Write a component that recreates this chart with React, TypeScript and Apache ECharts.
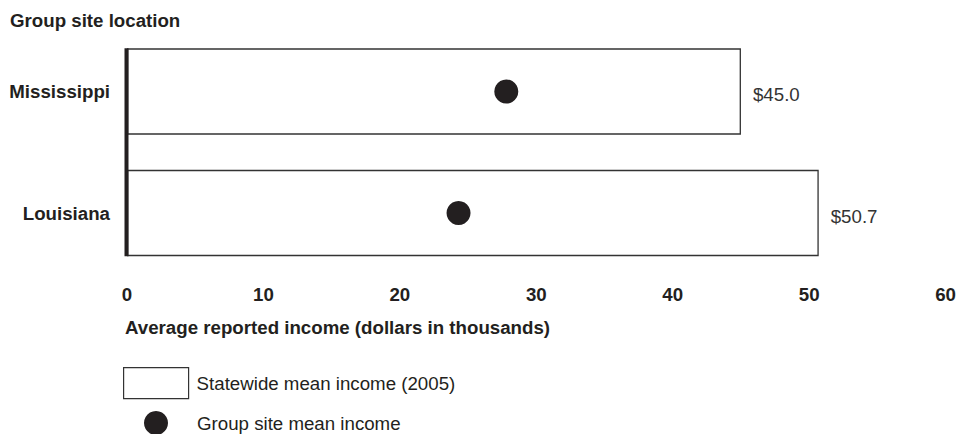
import React, { useEffect, useRef } from "react";
import * as echarts from "echarts";

// Chart data
const states = ["Mississippi", "Louisiana"];
const statewideMean = [45.0, 50.7];
const groupSiteMean = [27.8, 24.3];
const xTicks = [0, 10, 20, 30, 40, 50, 60];

const barName = "Statewide mean income (2005)";
const dotName = "Group site mean income";

const FONT = 'Arial, "Liberation Sans", Helvetica, sans-serif';
const FS = 18.7;
const INK = "#231f20";

export default function App() {
  const ref = useRef<HTMLDivElement>(null);

  useEffect(() => {
    if (!ref.current) return;
    const chart = echarts.init(ref.current, null, { renderer: "svg" });

    chart.setOption({
      animation: false,
      textStyle: { fontFamily: FONT },
      grid: { left: 127, right: 12, top: 30.75, height: 243, containLabel: false },
      xAxis: {
        type: "value",
        min: xTicks[0],
        max: xTicks[xTicks.length - 1],
        interval: 10,
        axisLine: { show: false },
        axisTick: { show: false },
        splitLine: { show: false },
        axisLabel: {
          margin: 11,
          fontFamily: FONT,
          fontSize: FS,
          fontWeight: "bold",
          color: INK,
        },
      },
      yAxis: {
        type: "category",
        data: states,
        inverse: true,
        axisLine: { show: false },
        axisTick: { show: false },
        axisLabel: {
          margin: 17,
          fontFamily: FONT,
          fontSize: FS,
          fontWeight: "bold",
          color: INK,
        },
      },
      legend: [
        {
          data: [{ name: barName, icon: "rect" }],
          left: 123,
          top: 367,
          padding: 0,
          itemWidth: 65,
          itemHeight: 31,
          selectedMode: false,
          itemStyle: { borderColor: "#333", borderWidth: 1.2 },
          textStyle: { fontFamily: FONT, fontSize: FS, color: INK, padding: [0, 0, 0, 3] },
        },
        {
          data: [{ name: dotName, icon: "circle" }],
          left: 144,
          top: 411,
          padding: 0,
          itemWidth: 24,
          itemHeight: 24,
          selectedMode: false,
          itemStyle: { borderWidth: 0, color: INK, opacity: 1 },
          textStyle: { fontFamily: FONT, fontSize: FS, color: INK, padding: [0, 0, 0, 24] },
        },
      ],
      graphic: [
        {
          type: "text",
          left: 10,
          top: 11,
          style: {
            text: "Group site location",
            font: `bold ${FS}px ${FONT}`,
            fill: INK,
          },
        },
        {
          type: "text",
          left: 125,
          top: 318,
          style: {
            text: "Average reported income (dollars in thousands)",
            font: `bold ${FS}px ${FONT}`,
            fill: INK,
          },
        },
      ],
      series: [
        {
          name: barName,
          type: "bar",
          data: statewideMean,
          barCategoryGap: "29%",
          itemStyle: { color: "#ffffff", borderColor: "#333", borderWidth: 1.3 },
          label: {
            show: true,
            position: "right",
            distance: 12,
            offset: [0, 3],
            fontFamily: FONT,
            fontSize: FS,
            color: "#333",
            formatter: (p: any) => "$" + Number(p.value).toFixed(1),
          },
          z: 2,
        },
        {
          name: dotName,
          type: "scatter",
          data: groupSiteMean.map((v, i) => [v, states[i]]),
          symbol: "circle",
          symbolSize: 24,
          itemStyle: { color: INK, opacity: 1 },
          z: 4,
        },
        {
          // thick vertical baseline spanning the bars at x = 0
          type: "custom",
          data: [[0, 0]],
          silent: true,
          z: 5,
          renderItem: (_params: any, api: any) => {
            const first = api.coord([0, 0]);
            const last = api.coord([0, states.length - 1]);
            const band = api.size([0, 1])[1];
            const half = band * 0.355;
            return {
              type: "line",
              shape: { x1: first[0] - 0.5, y1: first[1] - half, x2: last[0] - 0.5, y2: last[1] + half },
              style: { stroke: INK, lineWidth: 4 },
            };
          },
        },
      ],
    });

    return () => chart.dispose();
  }, []);

  return <div ref={ref} style={{ width: 959, height: 434, position: "absolute", left: 0, top: 0 }} />;
}
